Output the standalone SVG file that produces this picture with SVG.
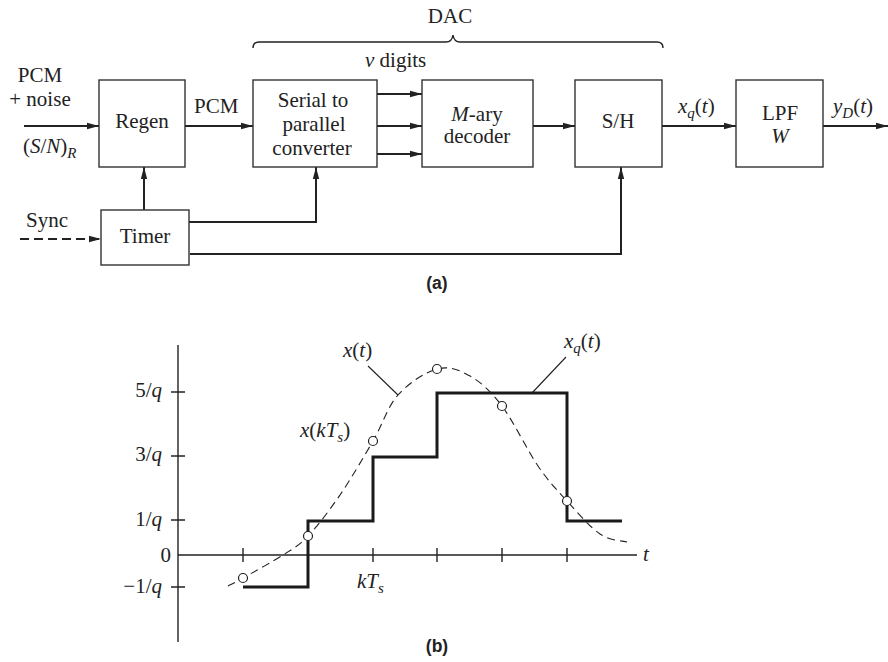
<svg xmlns="http://www.w3.org/2000/svg" width="888" height="662" viewBox="0 0 888 662">
<style>
.t{font-family:"Liberation Serif","Times New Roman",serif;font-size:21px;fill:#222}
.i{font-style:italic}
.sub{font-size:15px;font-style:italic}
.lab{font-family:"Liberation Sans",Arial,sans-serif;font-weight:bold;font-size:17.5px;fill:#222}
.box{fill:#fff;stroke:#333;stroke-width:1.4}
.con{fill:none;stroke:#222;stroke-width:2}
.thin{fill:none;stroke:#222;stroke-width:1.4}
.samp{fill:#fff;stroke:#222;stroke-width:1.2}
</style>
<defs>
<marker id="ah" markerUnits="userSpaceOnUse" markerWidth="13" markerHeight="8" refX="12" refY="4" orient="auto">
<path d="M0,0.8 L12,4 L0,7.2 z" fill="#222"/>
</marker>
</defs>
<rect width="888" height="662" fill="#fff"/>

<g id="connectors">
<line class="con" x1="24" y1="126" x2="99" y2="126" marker-end="url(#ah)"/>
<line class="con" x1="185" y1="126" x2="253" y2="126" marker-end="url(#ah)"/>
<line class="con" x1="377" y1="94" x2="422" y2="94" marker-end="url(#ah)"/>
<line class="con" x1="377" y1="126" x2="422" y2="126" marker-end="url(#ah)"/>
<line class="con" x1="377" y1="154" x2="422" y2="154" marker-end="url(#ah)"/>
<line class="con" x1="533" y1="126" x2="575" y2="126" marker-end="url(#ah)"/>
<line class="con" x1="662" y1="126" x2="736" y2="126" marker-end="url(#ah)"/>
<line class="con" x1="823" y1="126" x2="888" y2="126" marker-end="url(#ah)"/>
<line class="con" x1="144" y1="210" x2="144" y2="167" marker-end="url(#ah)"/>
<polyline class="con" points="189,222 316,222 316,167" marker-end="url(#ah)"/>
<polyline class="con" points="190,254 621,254 621,167" marker-end="url(#ah)"/>
<line class="con" x1="20" y1="239" x2="101" y2="239" stroke-dasharray="9,5" marker-end="url(#ah)"/>
<path class="thin" d="M253,48 Q253,42 259,42 L446,42 Q452,42 453,35 Q454,42 460,42 L657,42 Q663,42 663,48"/>
</g>

<g id="regen"><rect class="box" x="99" y="80" width="86" height="87"/><text class="t" x="142" y="128" text-anchor="middle">Regen</text></g>
<g id="serial"><rect class="box" x="253" y="80" width="124" height="87"/>
<text class="t" x="313" y="107" text-anchor="middle">Serial to</text>
<text class="t" x="314" y="131" text-anchor="middle">parallel</text>
<text class="t" x="312" y="155" text-anchor="middle">converter</text></g>
<g id="decoder"><rect class="box" x="422" y="80" width="111" height="87"/>
<text class="t" x="477" y="121" text-anchor="middle"><tspan class="i">M</tspan>-ary</text>
<text class="t" x="477" y="143" text-anchor="middle">decoder</text></g>
<g id="sh"><rect class="box" x="575" y="80" width="87" height="87"/><text class="t" x="618" y="128" text-anchor="middle">S/H</text></g>
<g id="lpf"><rect class="box" x="736" y="80" width="87" height="87"/>
<text class="t" x="780" y="120" text-anchor="middle">LPF</text>
<text class="t i" x="780" y="143" text-anchor="middle">W</text></g>
<g id="timer"><rect class="box" x="101" y="210" width="88" height="55"/><text class="t" x="145" y="243" text-anchor="middle">Timer</text></g>

<g id="labels-a">
<text class="t" x="40" y="82" text-anchor="middle">PCM</text>
<text class="t" x="40" y="106" text-anchor="middle">+ noise</text>
<text class="t" x="23" y="153">(<tspan class="i">S</tspan>/<tspan class="i">N</tspan>)<tspan class="sub" dy="5">R</tspan></text>
<text class="t" x="194" y="113">PCM</text>
<text class="t" x="450" y="23" text-anchor="middle">DAC</text>
<text class="t" x="365" y="67"><tspan class="i">ν</tspan> digits</text>
<text class="t" x="678" y="113"><tspan class="i">x</tspan><tspan class="sub" dy="5">q</tspan><tspan dy="-5">(</tspan><tspan class="i">t</tspan>)</text>
<text class="t" x="833" y="113"><tspan class="i">y</tspan><tspan class="sub" dy="5">D</tspan><tspan dy="-5">(</tspan><tspan class="i">t</tspan>)</text>
<text class="t" x="26" y="227">Sync</text>
<text class="lab" x="437" y="289" text-anchor="middle">(a)</text>
</g>

<g id="graph-b">
<line class="thin" x1="178" y1="345" x2="178" y2="642"/>
<line class="thin" x1="178" y1="555" x2="637" y2="555"/>
<path class="thin" d="M171,392 H185 M171,456 H185 M171,520 H185 M171,587 H185 M243,548 V562 M308,548 V562 M373,548 V562 M437,548 V562 M502,548 V562 M567,548 V562"/>
<text class="t" x="162" y="397" text-anchor="end">5/<tspan class="i">q</tspan></text>
<text class="t" x="162" y="461" text-anchor="end">3/<tspan class="i">q</tspan></text>
<text class="t" x="162" y="526" text-anchor="end">1/<tspan class="i">q</tspan></text>
<text class="t" x="171" y="562" text-anchor="end">0</text>
<text class="t" x="162" y="593" text-anchor="end">−1/<tspan class="i">q</tspan></text>
<text class="t i" x="643" y="561">t</text>
<text class="t" x="357" y="588"><tspan class="i">kT</tspan><tspan class="sub" dy="5">s</tspan></text>
<path fill="none" stroke="#222" stroke-width="1.1" stroke-dasharray="8,5" d="M228,586 C230.5,584.7 233.8,583.2 243,578 C252.2,572.8 272.2,562 283,555 C293.8,548 298.5,546 308,536 C317.5,526 329.2,510.8 340,495 C350.8,479.2 363.3,457.7 373,441 C382.7,424.3 387.3,407 398,395 C408.7,383 425,372.2 437,369 C449,365.8 459.2,369.8 470,376 C480.8,382.2 490.7,391 502,406 C513.3,421 527.2,450.2 538,466 C548.8,481.8 556.7,489.7 567,501 C577.3,512.3 590,527.2 600,534 C610,540.8 622.5,540.7 627,542"/>
<polyline fill="none" stroke="#1a1a1a" stroke-width="3" points="243,587 308,587 308,521 373,521 373,457 437,457 437,393 567,393 567,521 622,521"/>
<circle class="samp" cx="243" cy="578" r="4.5"/>
<circle class="samp" cx="308" cy="536" r="4.5"/>
<circle class="samp" cx="373" cy="441" r="4.5"/>
<circle class="samp" cx="437" cy="369" r="4.5"/>
<circle class="samp" cx="502" cy="406" r="4.5"/>
<circle class="samp" cx="567" cy="501" r="4.5"/>
<line stroke="#222" stroke-width="1.1" x1="368" y1="366" x2="398" y2="395"/>
<line stroke="#222" stroke-width="1.1" x1="566" y1="357" x2="532" y2="393"/>
<text class="t" x="343" y="357"><tspan class="i">x</tspan>(<tspan class="i">t</tspan>)</text>
<text class="t" x="300" y="437"><tspan class="i">x</tspan>(<tspan class="i">kT</tspan><tspan class="sub" dy="5">s</tspan><tspan dy="-5">)</tspan></text>
<text class="t" x="564" y="348"><tspan class="i">x</tspan><tspan class="sub" dy="5">q</tspan><tspan dy="-5">(</tspan><tspan class="i">t</tspan>)</text>
<text class="lab" x="437" y="652" text-anchor="middle">(b)</text>
</g>
</svg>
